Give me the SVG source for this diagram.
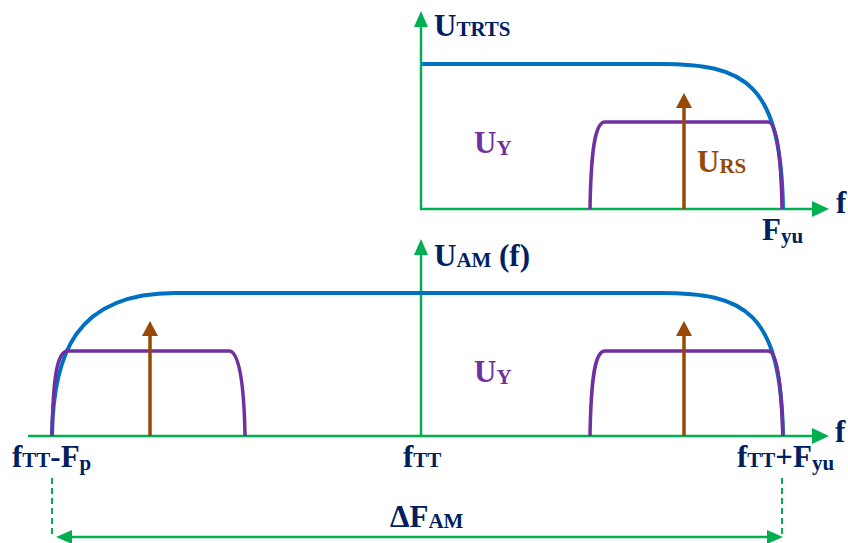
<svg xmlns="http://www.w3.org/2000/svg" width="848" height="543" viewBox="0 0 848 543">
<style>
text{font-family:"Liberation Serif","Times New Roman",serif;font-weight:bold;fill:#002060}
.m{font-size:31px}
.s{font-size:21px}
.ax{stroke:#00B050;stroke-width:2.5;fill:none}
.bl{stroke:#0070C0;stroke-width:4;fill:none}
.pu{stroke:#7030A0;stroke-width:3.5;fill:none}
.br{stroke:#984807;stroke-width:3.5;fill:none}
.dash{stroke:#00B050;stroke-width:2;stroke-dasharray:6,4;fill:none}
.ga{fill:#00B050}
.ba{fill:#984807}
.pt{fill:#7030A0}
.bt{fill:#984807}
</style>
<rect width="848" height="543" fill="#ffffff"/>
<g id="axes">
  <line class="ax" x1="421" y1="209" x2="421" y2="24"/>
  <polygon class="ga" points="421,11 414,27 428,27"/>
  <line class="ax" x1="420" y1="209" x2="815" y2="209"/>
  <polygon class="ga" points="829,209 812,201 812,217"/>
  <line class="ax" x1="421" y1="436" x2="421" y2="252"/>
  <polygon class="ga" points="421,239 414,255 428,255"/>
  <line class="ax" x1="28" y1="436" x2="815" y2="436"/>
  <polygon class="ga" points="829,436 812,428 812,444"/>
</g>
<g id="top-chart">
  <path class="bl" d="M422,64 H660 C745,64 781,82 783,209"/>
  <path class="pu" d="M590,209 C591,150 595,122 605,122 H768 C776,122 781,150 782,209"/>
  <line class="br" x1="684" y1="209" x2="684" y2="104"/>
  <polygon class="ba" points="684,93 676,108 692,108"/>
</g>
<g id="bottom-chart">
  <path class="bl" d="M52,436 C53,355 75,293 175,293 H660 C745,293 781,311 783,436"/>
  <path class="pu" d="M52,436 C53,377 57,351 68,351 H229 C238,351 244,377 245,436"/>
  <path class="pu" d="M590,436 C591,377 595,351 605,351 H768 C776,351 781,377 783,436"/>
  <line class="br" x1="150" y1="436" x2="150" y2="332"/>
  <polygon class="ba" points="150,321 142,336 158,336"/>
  <line class="br" x1="684" y1="436" x2="684" y2="332"/>
  <polygon class="ba" points="684,321 676,336 692,336"/>
</g>
<g id="bandwidth">
  <line class="dash" x1="52" y1="478" x2="52" y2="537"/>
  <line class="dash" x1="782" y1="478" x2="782" y2="537"/>
  <line class="ax" x1="68" y1="537" x2="770" y2="537"/>
  <polygon class="ga" points="56,537 72,530 72,544"/>
  <polygon class="ga" points="783,537 767,530 767,544"/>
</g>
<g id="labels">
  <text x="434" y="36"><tspan class="m">U</tspan><tspan class="s">TRTS</tspan></text>
  <text x="474" y="153" class="pt"><tspan class="m pt">U</tspan><tspan class="s pt" dy="2">Y</tspan></text>
  <text x="697" y="172" class="bt"><tspan class="m bt">U</tspan><tspan class="s bt" dy="1">RS</tspan></text>
  <text x="836" y="213" class="m">f</text>
  <text x="762" y="240"><tspan class="m">F</tspan><tspan class="s" dy="3">yu</tspan></text>
  <text x="434" y="266"><tspan class="m">U</tspan><tspan class="s" dy="1">AM</tspan><tspan class="m" x="499" y="266">(f)</tspan></text>
  <text x="474" y="382" class="pt"><tspan class="m pt">U</tspan><tspan class="s pt" dy="2">Y</tspan></text>
  <text x="835" y="442" class="m">f</text>
  <text x="12" y="467"><tspan class="m">f</tspan><tspan class="s">TT</tspan><tspan class="m">-F</tspan><tspan class="s" dy="3">p</tspan></text>
  <text x="403" y="467"><tspan class="m">f</tspan><tspan class="s">TT</tspan></text>
  <text x="737" y="467"><tspan class="m">f</tspan><tspan class="s">TT</tspan><tspan class="m">+F</tspan><tspan class="s" dy="3">yu</tspan></text>
  <text x="390" y="527"><tspan class="m">ΔF</tspan><tspan class="s" dy="1">AM</tspan></text>
</g>
</svg>
